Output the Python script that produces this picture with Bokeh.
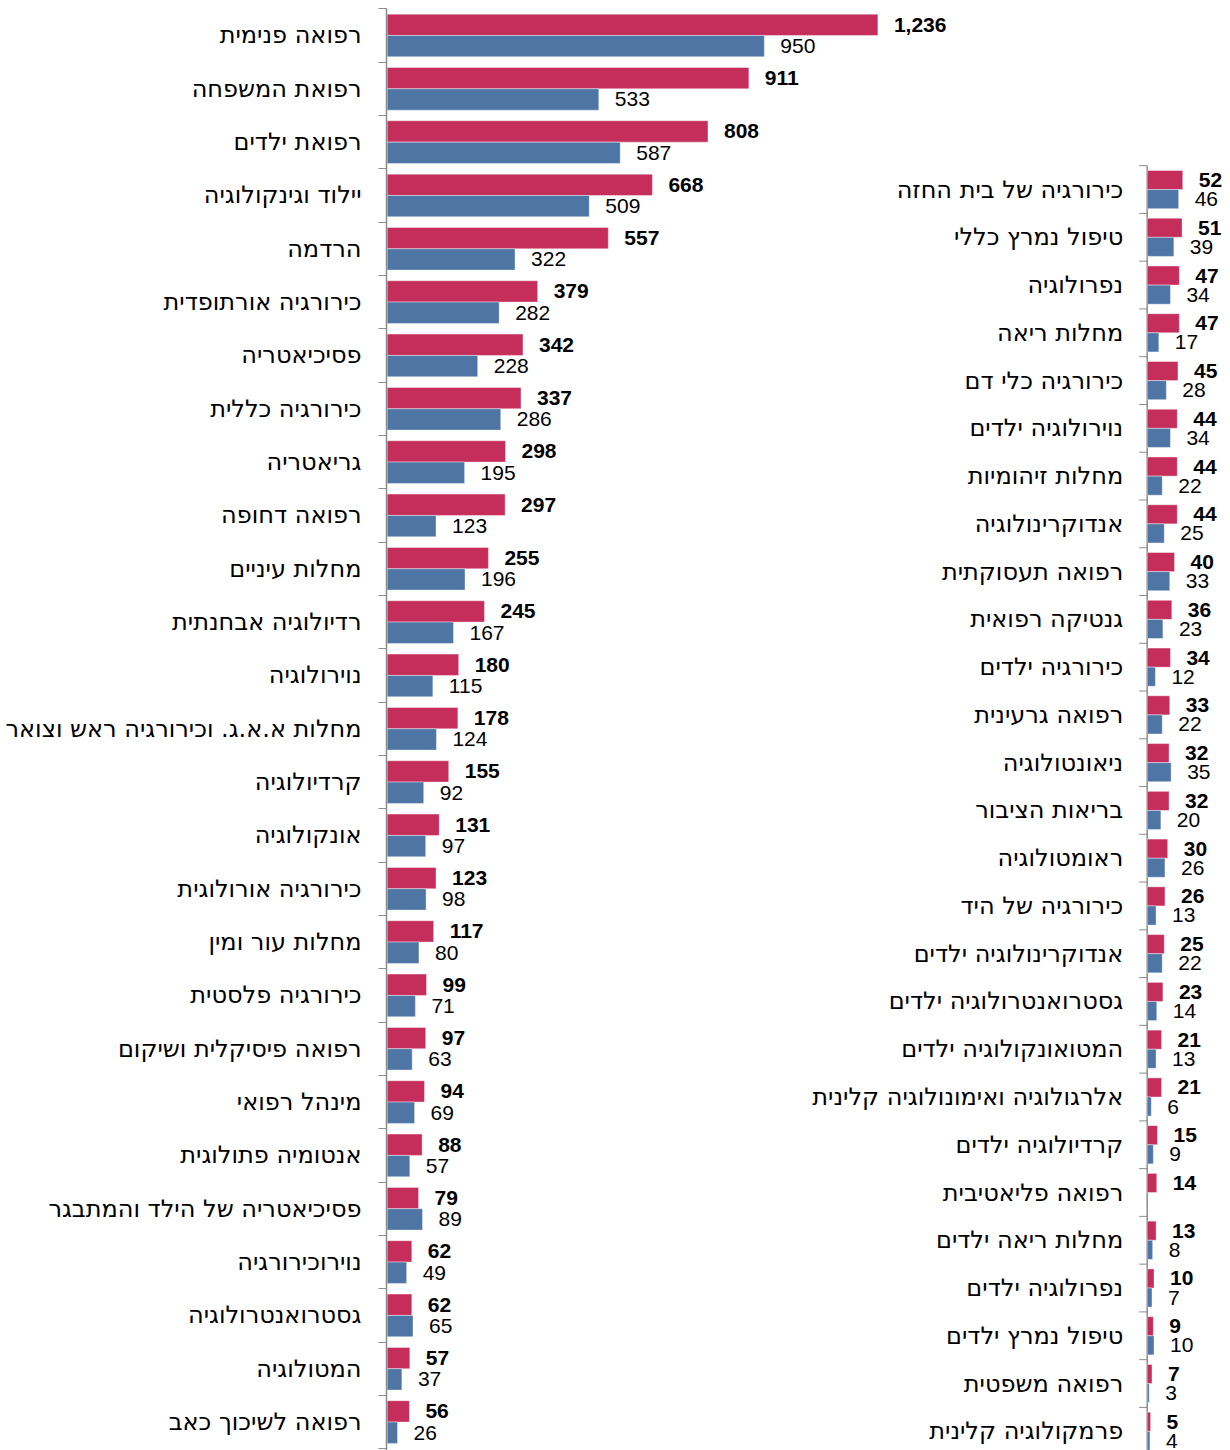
from bokeh.plotting import figure
from bokeh.models import ColumnDataSource, Range1d, LinearAxis, FixedTicker
from bokeh.transform import dodge
from bokeh.embed import file_html
from bokeh.resources import INLINE
from bokeh.core.properties import value
import math

# ---------------- data ----------------
left_categories = [
    "רפואה פנימית", "רפואת המשפחה", "רפואת ילדים", "יילוד וגינקולוגיה", "הרדמה",
    "כירורגיה אורתופדית", "פסיכיאטריה", "כירורגיה כללית", "גריאטריה", "רפואה דחופה",
    "מחלות עיניים", "רדיולוגיה אבחנתית", "נוירולוגיה", "מחלות א.א.ג. וכירורגיה ראש וצואר",
    "קרדיולוגיה", "אונקולוגיה", "כירורגיה אורולוגית", "מחלות עור ומין", "כירורגיה פלסטית",
    "רפואה פיסיקלית ושיקום", "מינהל רפואי", "אנטומיה פתולוגית",
    "פסיכיאטריה של הילד והמתבגר", "נוירוכירורגיה", "גסטרואנטרולוגיה", "המטולוגיה",
    "רפואה לשיכוך כאב",
]
left_red = [1236, 911, 808, 668, 557, 379, 342, 337, 298, 297, 255, 245, 180, 178,
            155, 131, 123, 117, 99, 97, 94, 88, 79, 62, 62, 57, 56]
left_blue = [950, 533, 587, 509, 322, 282, 228, 286, 195, 123, 196, 167, 115, 124,
             92, 97, 98, 80, 71, 63, 69, 57, 89, 49, 65, 37, 26]

right_categories = [
    "כירורגיה של בית החזה", "טיפול נמרץ כללי", "נפרולוגיה", "מחלות ריאה", "כירורגיה כלי דם",
    "נוירולוגיה ילדים", "מחלות זיהומיות", "אנדוקרינולוגיה", "רפואה תעסוקתית", "גנטיקה רפואית",
    "כירורגיה ילדים", "רפואה גרעינית", "ניאונטולוגיה", "בריאות הציבור", "ראומטולוגיה",
    "כירורגיה של היד", "אנדוקרינולוגיה ילדים", "גסטרואנטרולוגיה ילדים",
    "המטואונקולוגיה ילדים", "אלרגולוגיה ואימונולוגיה קלינית", "קרדיולוגיה ילדים",
    "רפואה פליאטיבית", "מחלות ריאה ילדים", "נפרולוגיה ילדים", "טיפול נמרץ ילדים",
    "רפואה משפטית", "פרמקולוגיה קלינית",
]
right_red = [52, 51, 47, 47, 45, 44, 44, 44, 40, 36, 34, 33, 32, 32, 30, 26, 25, 23,
             21, 21, 15, 14, 13, 10, 9, 7, 5]
right_blue = [46, 39, 34, 17, 28, 34, 22, 25, 33, 23, 12, 22, 35, 20, 26, 13, 22, 14,
              13, 6, 9, None, 8, 7, 10, 3, 4]

# ---------------- style ----------------
RED = "#C52D5A"
BLUE = "#4F75A5"
AXIS = "#8C8C8C"
CAT_FONT = "DejaVu Sans"
VAL_FONT = "Liberation Sans"
CAT_SIZE = "24px"
VAL_SIZE = "21px"

W, H = 1230, 1450
BORDER_L = 386

p = figure(width=W, height=H, output_backend="svg", toolbar_location=None,
           x_range=Range1d(-1.76, 2124.2), y_range=Range1d(26.533, -0.5056),
           x_axis_type=None, y_axis_type=None,
           min_border_left=BORDER_L, min_border_right=0,
           min_border_top=8, min_border_bottom=0)
p.outline_line_color = None
p.background_fill_color = "white"
p.border_fill_color = "white"

p.extra_x_ranges = {"r": Range1d(-1112.1, 121.8)}
p.extra_y_ranges = {"r": Range1d(26.402, -3.791)}

# ---------------- left panel ----------------
nl = len(left_categories)
left_src = ColumnDataSource(dict(
    idx=list(range(nl)),
    cat=left_categories,
    red=left_red,
    blue=left_blue,
    red_txt=[f"{v:,}" for v in left_red],
    blue_txt=[f"{v:,}" for v in left_blue],
))

ax = LinearAxis(
    ticker=FixedTicker(ticks=list(range(nl)), minor_ticks=[i - 0.5 for i in range(nl + 1)]),
    major_label_overrides={i: c for i, c in enumerate(left_categories)},
    major_tick_in=0, major_tick_out=0, minor_tick_in=0, minor_tick_out=8,
    axis_line_color=AXIS, axis_line_width=1.5, minor_tick_line_color=AXIS,
    major_label_standoff=17,
    major_label_text_font=CAT_FONT, major_label_text_font_size=CAT_SIZE,
    major_label_text_color="black",
)
p.add_layout(ax, "left")

p.hbar(y=dodge("idx", -0.2), left=0, right="red", height=0.4, source=left_src,
       fill_color=RED, line_color="white", line_alpha=0.4)
p.hbar(y=dodge("idx", 0.2), left=0, right="blue", height=0.4, source=left_src,
       fill_color=BLUE, line_color="white", line_alpha=0.4)
p.text(x="red", y=dodge("idx", -0.2), text="red_txt", source=left_src,
       x_offset=16, text_align="left", text_baseline="middle",
       text_font=value(VAL_FONT), text_font_size=VAL_SIZE, text_font_style="bold",
       text_color="black")
p.text(x="blue", y=dodge("idx", 0.2), text="blue_txt", source=left_src,
       x_offset=16, text_align="left", text_baseline="middle",
       text_font=value(VAL_FONT), text_font_size=VAL_SIZE, text_color="black")

# ---------------- right panel ----------------
nr = len(right_categories)
right_src = ColumnDataSource(dict(
    idx=list(range(nr)),
    cat=right_categories,
    red=right_red,
    blue=[float("nan") if v is None else v for v in right_blue],
    red_txt=[f"{v:,}" for v in right_red],
    blue_txt=["" if v is None else f"{v:,}" for v in right_blue],
))
bnd_src = ColumnDataSource(dict(b=[i - 0.5 for i in range(nr + 1)],
                                z=[0] * (nr + 1)))

p.segment(x0=0, y0=-0.5, x1=0, y1=nr - 0.5, line_color=AXIS, line_width=1.5,
          x_range_name="r", y_range_name="r")
p.ray(x="z", y="b", length=8, length_units="screen", angle=math.pi,
      line_color=AXIS, line_width=1, source=bnd_src,
      x_range_name="r", y_range_name="r")

p.hbar(y=dodge("idx", -0.2), left=0, right="red", height=0.4, source=right_src,
       fill_color=RED, line_color="white", line_alpha=0.4,
       x_range_name="r", y_range_name="r")
p.hbar(y=dodge("idx", 0.2), left=0, right="blue", height=0.4, source=right_src,
       fill_color=BLUE, line_color="white", line_alpha=0.4,
       x_range_name="r", y_range_name="r")
p.text(x=0, y="idx", text="cat", source=right_src, x_offset=-24,
       text_align="right", text_baseline="middle",
       text_font=value(CAT_FONT), text_font_size=CAT_SIZE, text_color="black",
       x_range_name="r", y_range_name="r")
p.text(x="red", y=dodge("idx", -0.2), text="red_txt", source=right_src,
       x_offset=16, text_align="left", text_baseline="middle",
       text_font=value(VAL_FONT), text_font_size=VAL_SIZE, text_font_style="bold",
       text_color="black", x_range_name="r", y_range_name="r")
p.text(x="blue", y=dodge("idx", 0.2), text="blue_txt", source=right_src,
       x_offset=16, text_align="left", text_baseline="middle",
       text_font=value(VAL_FONT), text_font_size=VAL_SIZE, text_color="black",
       x_range_name="r", y_range_name="r")

open("out.html", "w").write(file_html(p, INLINE))
